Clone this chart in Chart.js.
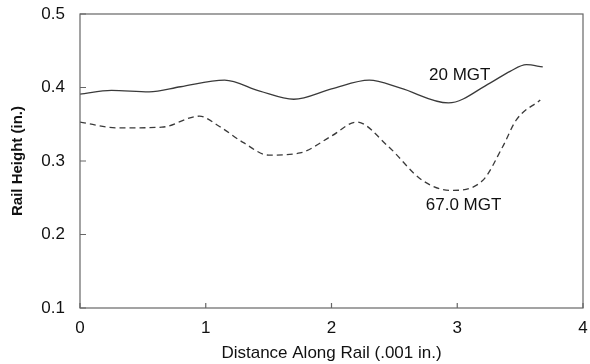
<!DOCTYPE html>
<html lang="en">
  <head>
    <meta charset="UTF-8" />
    <script src="https://cdn.jsdelivr.net/npm/chart.js"></script>
    <style>
      html, body { margin: 0; padding: 0; background: #fff; }
      #wrap { width: 590px; height: 364px; }
    </style>
  </head>
  <body>
    <div id="wrap"><canvas id="grafico"></canvas></div>
    <script>
      // distance along rail (.001 in.) and rail height (in.)
      const x20 = [0, 0.25, 0.55, 0.8, 1.15, 1.43, 1.7, 2.0, 2.3, 2.55, 2.93, 3.26, 3.42, 3.55, 3.68];
      const y20 = [0.391, 0.396, 0.394, 0.401, 0.410, 0.395, 0.384, 0.398, 0.410, 0.399, 0.379, 0.406, 0.422, 0.431, 0.428];

      const x67 = [0, 0.3, 0.65, 0.95, 1.1, 1.3, 1.5, 1.75, 2.0, 2.2, 2.45, 2.72, 2.95, 3.2, 3.36, 3.47, 3.66];
      const y67 = [0.353, 0.345, 0.346, 0.361, 0.348, 0.325, 0.308, 0.311, 0.334, 0.353, 0.320, 0.274, 0.260, 0.273, 0.319, 0.356, 0.383];

      const xTicks = [0, 1, 2, 3, 4];
      const yTicks = [0.1, 0.2, 0.3, 0.4, 0.5];

      const rotulos = [
        { texto: "20 MGT", x: 3.02, y: 0.417 },
        { texto: "67.0 MGT", x: 3.05, y: 0.240 }
      ];

      function pares(xs, ys) {
        return xs.map(function (v, i) { return { x: v, y: ys[i] }; });
      }

      const corLinha = "#3a3a3a";
      const corEixo = "#666";
      const fonte = "'Liberation Sans', Arial, sans-serif";

      // box around the plot, inner ticks and curve labels
      const extras = {
        id: "extras",
        afterDraw(chart) {
          const ctx = chart.ctx;
          const a = chart.chartArea;
          const sx = chart.scales.x;
          const sy = chart.scales.y;
          ctx.save();
          ctx.strokeStyle = corEixo;
          ctx.lineWidth = 1.2;
          ctx.strokeRect(a.left, a.top, a.right - a.left, a.bottom - a.top);
          ctx.beginPath();
          xTicks.forEach(function (t) {
            const px = sx.getPixelForValue(t);
            ctx.moveTo(px, a.bottom);
            ctx.lineTo(px, a.bottom - 5);
          });
          yTicks.forEach(function (t) {
            const py = sy.getPixelForValue(t);
            ctx.moveTo(a.left, py);
            ctx.lineTo(a.left + 6, py);
          });
          ctx.stroke();
          ctx.fillStyle = "#111";
          ctx.font = "17px " + fonte;
          ctx.textAlign = "center";
          ctx.textBaseline = "middle";
          rotulos.forEach(function (r) {
            ctx.fillText(r.texto, sx.getPixelForValue(r.x), sy.getPixelForValue(r.y));
          });
          ctx.restore();
        }
      };

      const config = {
        type: "scatter",
        data: {
          datasets: [
            {
              label: "20 MGT",
              data: pares(x20, y20),
              showLine: true,
              borderColor: corLinha,
              borderWidth: 1.3,
              pointRadius: 0,
              cubicInterpolationMode: "monotone"
            },
            {
              label: "67.0 MGT",
              data: pares(x67, y67),
              showLine: true,
              borderColor: corLinha,
              borderWidth: 1.3,
              borderDash: [6, 4],
              pointRadius: 0,
              cubicInterpolationMode: "monotone"
            }
          ]
        },
        options: {
          responsive: true,
          maintainAspectRatio: false,
          animation: false,
          layout: { padding: { top: 14, right: 7, left: 0, bottom: 0 } },
          plugins: { legend: { display: false }, tooltip: { enabled: false } },
          scales: {
            x: {
              type: "linear",
              min: 0,
              max: 4,
              afterBuildTicks(s) { s.ticks = xTicks.map(function (v) { return { value: v }; }); },
              afterFit(s) { s.height = 56; },
              grid: { display: false },
              border: { display: false },
              ticks: { color: "#111", font: { size: 17, family: fonte }, padding: 2 },
              title: {
                display: true,
                text: "Distance Along Rail (.001 in.)",
                color: "#111",
                font: { size: 17, family: fonte },
                padding: { top: 3, bottom: 0 }
              }
            },
            y: {
              type: "linear",
              min: 0.1,
              max: 0.5,
              afterBuildTicks(s) { s.ticks = yTicks.map(function (v) { return { value: v }; }); },
              afterFit(s) { s.width = 80; s.paddingTop = 0; s.paddingBottom = 0; },
              grid: { display: false },
              border: { display: false },
              ticks: {
                color: "#111",
                font: { size: 17, family: fonte },
                padding: 7,
                callback: function (v) { return v.toFixed(1); }
              },
              title: {
                display: true,
                text: "Rail Height (in.)",
                color: "#111",
                font: { size: 15, weight: "bold", family: fonte },
                padding: { top: 9, bottom: 0 }
              }
            }
          }
        },
        plugins: [extras]
      };

      new Chart(document.getElementById("grafico"), config);
    </script>
  </body>
</html>
